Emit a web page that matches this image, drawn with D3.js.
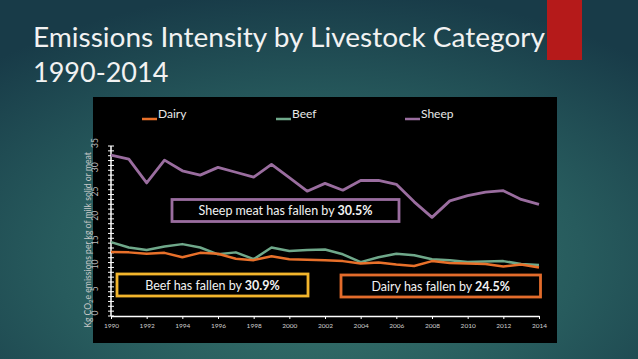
<!DOCTYPE html>
<html><head><meta charset="utf-8">
<script src="https://cdn.jsdelivr.net/npm/d3@7"></script>
<style>html,body{margin:0;padding:0;overflow:hidden;background:#1c4550;}</style>
</head><body>
<script>
const years = d3.range(1990, 2015);
const dairy = [13.2,13.1,12.8,13.0,12.1,13.0,12.8,11.8,11.5,12.3,11.7,11.6,11.5,11.3,10.8,11.0,10.6,10.3,11.3,10.9,10.8,10.7,10.2,10.6,10.0];
const beef  = [15.2,14.1,13.6,14.3,14.8,14.1,12.7,13.1,11.7,14.1,13.4,13.6,13.7,12.7,11.1,12.1,12.8,12.5,11.7,11.5,11.1,11.2,11.3,10.7,10.5];
const sheep = [33.1,32.3,27.4,32.1,29.9,29.0,30.6,29.6,28.6,31.2,28.5,25.7,27.3,25.9,27.9,27.9,27.1,23.5,20.3,23.7,24.8,25.5,25.8,24.0,23.0];
const seriesNames = ["Dairy","Beef","Sheep"];
const seriesColors = ["#e8702a","#6fa88a","#9a6d9f"];
const xTickLabels = d3.range(1990, 2015, 2);
const yTicks = [0,5,10,15,20,25,30,35];
const notes = [
  {text:"Sheep meat has fallen by ", bold:"30.5%", color:"#9a6d9f"},
  {text:"Beef has fallen by ", bold:"30.9%", color:"#f2b52c"},
  {text:"Dairy has fallen by ", bold:"24.5%", color:"#e26b2b"}
];

const W = 638, H = 359;
const svg = d3.select("body").append("svg").attr("width", W).attr("height", H);
const defs = svg.append("defs");
const rg = defs.append("radialGradient").attr("id","bg").attr("cx","0.5").attr("cy","0.72").attr("r","0.75");
rg.append("stop").attr("offset","0%").attr("stop-color","#3a7a70");
rg.append("stop").attr("offset","55%").attr("stop-color","#275b5d");
rg.append("stop").attr("offset","100%").attr("stop-color","#183b48");
svg.append("rect").attr("width",W).attr("height",H).attr("fill","url(#bg)");

// red accent
svg.append("rect").attr("x",547).attr("y",0).attr("width",35).attr("height",60).attr("fill","#b51a1a");

// title
const font = "Lato, 'Open Sans', sans-serif";
svg.append("text").attr("x",33).attr("y",47).attr("fill","#f2f2f2").attr("font-family",font)
  .attr("font-size",27).attr("textLength",512).attr("lengthAdjust","spacingAndGlyphs")
  .text("Emissions Intensity by Livestock Category");
svg.append("text").attr("x",33).attr("y",82).attr("fill","#f2f2f2").attr("font-family",font)
  .attr("font-size",27).text("1990-2014");

// black panel
svg.append("rect").attr("x",93).attr("y",97).attr("width",464).attr("height",246).attr("fill","#000");

const x = d3.scaleLinear().domain([1990, 2014]).range([111, 539]);
const y = d3.scaleLinear().domain([0, 35]).range([316, 146]);

// legend
const legX = [142, 276, 405];
seriesNames.forEach((n,i)=>{
  svg.append("line").attr("x1",legX[i]).attr("x2",legX[i]+15).attr("y1",119).attr("y2",119)
    .attr("stroke",seriesColors[i]).attr("stroke-width",2.5);
  svg.append("text").attr("x",legX[i]+16).attr("y",118).attr("fill","#e8e8e8")
    .attr("font-family",font).attr("font-size",12).text(n);
});

// x axis
const xAxis = d3.axisBottom(x).tickValues(xTickLabels).tickFormat(d3.format("d")).tickSize(3).tickSizeOuter(0);
const gx = svg.append("g").attr("transform","translate(0,316)").call(xAxis);
gx.select(".domain").attr("stroke","#fff").attr("stroke-width",1.5);
gx.selectAll(".tick line").attr("stroke","#fff");
gx.selectAll(".tick text").attr("fill","#cfcfcf").attr("font-family",font).attr("font-size",6.5).attr("dy","0.9em");

// y axis: minor ticks every unit crossing the line
const gy = svg.append("g").attr("transform","translate(111,0)");
gy.append("line").attr("x1",0).attr("x2",0).attr("y1",y(35)).attr("y2",y(0)).attr("stroke","#fff").attr("stroke-width",1.5);
gy.selectAll("line.minor").data(d3.range(0,36)).join("line").attr("class","minor")
  .attr("x1",-3).attr("x2",3).attr("y1",d=>y(d)).attr("y2",d=>y(d)).attr("stroke","#fff").attr("stroke-width",1);
gy.selectAll("text.yl").data(yTicks).join("text").attr("class","yl")
  .attr("transform",d=>`translate(-13,${y(d)-3}) rotate(-90)`)
  .attr("text-anchor","middle").attr("fill","#bdbdbd").attr("font-family",font).attr("font-size",8.5).text(d=>d);

// y title
const yt = svg.append("text").attr("transform","translate(91,240) rotate(-90)").attr("text-anchor","middle")
  .attr("fill","#c8c8c8").attr("font-family",font).attr("font-size",8.6);
yt.append("tspan").text("Kg CO");
yt.append("tspan").attr("font-size",6).attr("dy",2).text("2");
yt.append("tspan").attr("dy",-2).text("e emissions per kg of milk solid or meat");

// lines
const line = d3.line().x((d,i)=>x(years[i])).y(d=>y(d));
[[beef,1],[dairy,0],[sheep,2]].forEach(([s,i])=>{
  svg.append("path").datum(s).attr("d",line).attr("fill","none").attr("stroke",seriesColors[i])
    .attr("stroke-width",i===2?2.8:2.5).attr("stroke-linejoin","round");
});

// annotation boxes
const boxes = [
  {x0:172, x1:399, y0:199.5, y1:221.5},
  {x0:117, x1:308, y0:274, y1:296},
  {x0:341, x1:540.5, y0:275, y1:297}
];
notes.forEach((n,i)=>{
  const b = boxes[i];
  svg.append("rect").attr("x",b.x0).attr("y",b.y0).attr("width",b.x1-b.x0).attr("height",b.y1-b.y0)
    .attr("fill","#000").attr("stroke",n.color).attr("stroke-width",2.8);
  const t = svg.append("text").attr("x",(b.x0+b.x1)/2).attr("y",(b.y0+b.y1)/2+4.5).attr("text-anchor","middle")
    .attr("fill","#f2f2f2").attr("font-family",font).attr("font-size",12.5);
  t.append("tspan").text(n.text);
  t.append("tspan").attr("font-weight","bold").text(n.bold);
});
</script>
</body></html>
